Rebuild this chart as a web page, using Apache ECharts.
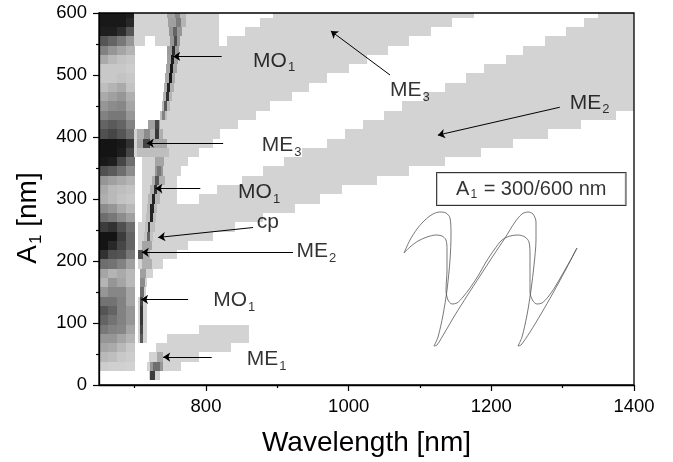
<!DOCTYPE html>
<html>
<head>
<meta charset="utf-8">
<script src="https://cdn.jsdelivr.net/npm/echarts@6/dist/echarts.min.js"></script>
<style>
  html, body { margin: 0; padding: 0; background: #fff; }
  #chart { width: 673px; height: 462px; }
</style>
</head>
<body>
<div id="chart"></div>
<script>
// map rows are 15 nm tall in A1, grey level 0 = black, 255 = white
const rowStep = 15;
const bandGrey = 211;

const xMajorTicks = [800, 1000, 1200, 1400];
const xMinorTicks = [700, 900, 1100, 1300];

// dark block at the short wavelength edge: four columns per row
const leftColumns = [650, 662.5, 675, 687.5, 700];
const leftRows = [600, 585, 570, 555, 540, 525, 510, 495, 480, 465, 450, 435, 420, 405, 390, 375,
  360, 345, 330, 315, 300, 285, 270, 255, 240, 225, 210, 195, 180, 165, 150, 135, 120, 105, 90, 75, 60, 45, 30];
const leftGrey = [
  [25, 25, 25, 30], [25, 25, 25, 40], [30, 30, 45, 85], [85, 100, 120, 150],
  [130, 150, 165, 180], [170, 185, 195, 200], [200, 200, 200, 205], [200, 200, 195, 200],
  [190, 180, 170, 195], [170, 160, 150, 175], [150, 140, 135, 165], [130, 120, 120, 150],
  [100, 90, 100, 130], [80, 70, 85, 110], [20, 20, 25, 50], [20, 20, 30, 70],
  [25, 30, 70, 110], [80, 90, 110, 140], [150, 160, 170, 180], [170, 185, 190, 195],
  [175, 185, 195, 200], [140, 150, 170, 185], [110, 120, 140, 160], [60, 50, 80, 110],
  [20, 20, 60, 100], [20, 40, 70, 100], [50, 80, 85, 120], [110, 115, 130, 160],
  [165, 180, 170, 185], [180, 150, 165, 185], [150, 135, 135, 165], [115, 115, 130, 165],
  [85, 100, 130, 150], [100, 115, 130, 150], [120, 130, 135, 165], [150, 150, 165, 180],
  [165, 170, 185, 200], [185, 190, 200, 205], [205, 208, 208, 210]
];

// light grey bands: [A1, from nm, to nm]
const bandME3 = [
  [600, 699, 1175], [585, 699, 1145], [570, 699, 1115], [555, 699, 1085],
  [540, 745, 1055], [525, 745, 1025], [510, 744, 1000], [495, 743, 970],
  [480, 742, 945], [465, 740, 920], [450, 738, 890], [435, 735, 870],
  [420, 718, 845], [405, 699, 820], [390, 699, 810], [375, 699, 790],
  [360, 710, 775], [345, 710, 765], [330, 710, 760], [315, 710, 760], [300, 710, 760]
];
const bandME2 = [
  [600, 1350, 1400], [585, 1330, 1400], [570, 1305, 1400], [555, 1275, 1400],
  [540, 1245, 1400], [525, 1220, 1400], [510, 1190, 1400], [495, 1165, 1400],
  [480, 1135, 1400], [465, 1105, 1400], [450, 1075, 1400], [435, 1050, 1375],
  [420, 1020, 1325], [405, 995, 1280], [390, 970, 1230], [375, 935, 1185],
  [360, 910, 1135], [345, 880, 1085], [330, 850, 1040], [315, 815, 990],
  [300, 790, 960], [285, 710, 925], [270, 710, 880], [255, 705, 840],
  [240, 705, 810], [225, 705, 775], [210, 705, 760], [195, 705, 740],
  [180, 707, 725], [165, 707, 717], [150, 707, 716]
];
const bandME1 = [
  [90, 790, 860], [75, 745, 860], [60, 730, 835], [45, 720, 790], [30, 717, 765], [15, 720, 735]
];
const whiteGaps = [
  [600, 818, 894], [585, 818, 876], [570, 818, 855], [555, 818, 829], [555, 714, 728]
];

// resonance traces: [A1, from nm, to nm, grey]
const resonances = [
  [600, 745, 757, 165], [600, 757, 764, 135], [600, 764, 772, 185],
  [585, 747, 758, 160], [585, 758, 765, 125], [585, 765, 772, 180],
  [570, 748, 766, 150], [570, 754, 759, 100],
  [555, 749, 764, 150], [555, 755, 759, 75],
  [540, 746, 762, 155], [540, 752, 756, 45],
  [525, 745, 761, 160], [525, 751, 755, 30],
  [510, 744, 759, 165], [510, 749, 754, 25],
  [495, 743, 757, 170], [495, 748, 752, 25],
  [480, 741, 755, 175], [480, 745, 749, 35],
  [465, 740, 753, 180], [465, 744, 748, 50],
  [450, 738, 750, 185], [450, 741, 745, 90],
  [435, 735, 745, 190], [435, 738, 742, 130],
  [420, 718, 735, 160], [420, 728, 734, 70],
  [405, 703, 740, 175], [405, 713, 722, 140], [405, 728, 734, 55],
  [390, 703, 745, 165], [390, 712, 721, 70],
  [375, 703, 748, 190],
  [360, 728, 741, 165],
  [345, 728, 740, 150], [345, 731, 737, 120],
  [330, 724, 742, 175], [330, 728, 734, 85],
  [315, 721, 738, 175], [315, 727, 731, 50],
  [300, 718, 735, 180], [300, 724, 728, 35],
  [285, 717, 732, 185], [285, 722, 727, 35],
  [270, 716, 730, 190], [270, 721, 725, 35],
  [255, 714, 728, 190], [255, 718, 722, 50],
  [240, 713, 725, 195], [240, 717, 721, 100],
  [225, 710, 724, 165],
  [210, 705, 721, 175], [210, 705, 711, 80],
  [195, 710, 724, 175],
  [180, 707, 716, 160],
  [165, 707, 714, 140],
  [150, 707, 713, 110],
  [135, 705, 717, 211], [135, 707, 712, 70],
  [120, 705, 717, 211], [120, 707, 712, 55],
  [105, 705, 717, 211], [105, 707, 711, 55],
  [90, 705, 717, 211], [90, 707, 711, 70],
  [75, 705, 717, 211], [75, 707, 711, 90],
  [45, 731, 740, 170],
  [30, 721, 740, 150], [30, 726, 735, 110],
  [15, 721, 729, 60]
];

// annotations
const arrows = [
  [822, 530, 754, 530],
  [824, 390, 717, 390],
  [792, 317, 729, 317],
  [866, 254, 733, 238],
  [922, 214, 710, 214],
  [775, 138, 709, 138],
  [808, 45, 740, 45],
  [1058, 500, 975, 571],
  [1296, 448, 1125, 403]
];
const labels = [
  ['MO', '1', 866, 523],
  ['ME', '3', 878, 386],
  ['MO', '1', 845, 311],
  ['cp', '', 871, 262],
  ['ME', '2', 927, 216],
  ['MO', '1', 810, 136],
  ['ME', '1', 857, 42],
  ['ME', '3', 1058, 475],
  ['ME', '2', 1310, 455]
];
const insetTitle = [1256, 316];

// inset spectra (arbitrary units)
const insetCurveA = [[4, 97], [10, 110], [17, 121], [25, 130], [33, 136], [40, 138], [46, 137], [50, 132],
  [51, 115], [50, 90], [47, 60], [43, 35], [38, 13], [34, 4], [37, 5], [45, 18], [55, 35], [67, 54],
  [80, 74], [93, 94], [105, 112], [115, 128], [122, 136], [128, 138], [133, 136], [136, 128], [136, 110],
  [134, 85], [131, 60], [127, 35], [122, 13], [118, 4], [121, 5], [130, 18], [141, 36], [153, 57],
  [165, 79], [177, 102]];
const insetCurveB = [[4, 97], [10, 103], [18, 109], [27, 113], [36, 115], [42, 114], [46, 110], [47, 100],
  [47, 80], [46, 60], [48, 50], [52, 46], [57, 47], [63, 53], [70, 62], [78, 74], [86, 88], [94, 100],
  [102, 110], [110, 114], [118, 115], [125, 113], [129, 108], [130, 95], [130, 75], [130, 58], [133, 49],
  [137, 46], [142, 47], [148, 53], [155, 63], [162, 75], [170, 89], [177, 102]];

const cells = [];
leftRows.forEach((a, i) => {
  for (let j = 0; j < 4; j++) {
    cells.push([leftColumns[j], a, leftColumns[j + 1], leftGrey[i][j]]);
  }
});
[bandME3, bandME2, bandME1].forEach((band) => {
  band.forEach(([a, from, to]) => cells.push([from, a, to, bandGrey]));
});
whiteGaps.forEach(([a, from, to]) => cells.push([from, a, to, 255]));
resonances.forEach(([a, from, to, g]) => cells.push([from, a, to, g]));

function renderCell(params, api) {
  const p0 = api.coord([api.value(0), api.value(1) + rowStep / 2]);
  const p1 = api.coord([api.value(2), api.value(1) - rowStep / 2]);
  const left = Math.round(p0[0]);
  const top = Math.round(p0[1]);
  const cs = params.coordSys;
  const rect = echarts.graphic.clipRectByRect(
    { x: left, y: top, width: Math.round(p1[0]) - left, height: Math.round(p1[1]) - top },
    { x: cs.x, y: cs.y, width: cs.width, height: cs.height }
  );
  if (!rect) {
    return;
  }
  const g = api.value(3);
  return { type: 'rect', shape: rect, style: { fill: `rgb(${g},${g},${g})` } };
}

const font = 'Liberation Sans, Arial, Helvetica, sans-serif';
const chart = echarts.init(document.getElementById('chart'));
chart.setOption({
  animation: false,
  textStyle: { fontFamily: font },
  grid: [
    { left: 99, right: 39, top: 13, bottom: 77, show: true, borderColor: '#000', borderWidth: 1.3, backgroundColor: 'transparent', z: 10 },
    { left: 400, top: 210, width: 180, height: 140 }
  ],
  xAxis: [
    {
      type: 'value', gridIndex: 0, min: 650, max: 1400, position: 'bottom', z: 10,
      axisLine: { lineStyle: { color: '#000', width: 1.3 } },
      axisTick: { length: 6, customValues: xMajorTicks, lineStyle: { color: '#000', width: 1.2 } },
      axisLabel: { customValues: xMajorTicks, fontSize: 18.5, color: '#000', margin: 12, formatter: (v) => String(v) },
      splitLine: { show: false },
      name: 'Wavelength [nm]', nameLocation: 'middle', nameGap: 44,
      nameTextStyle: { fontSize: 28, color: '#000' }
    },
    {
      type: 'value', gridIndex: 0, min: 650, max: 1400, position: 'bottom', z: 10,
      axisLine: { show: false },
      axisTick: { length: 3, customValues: xMinorTicks, lineStyle: { color: '#000', width: 1.2 } },
      axisLabel: { show: false },
      splitLine: { show: false }
    },
    { type: 'value', gridIndex: 1, min: 0, max: 180, show: false }
  ],
  yAxis: [
    {
      type: 'value', gridIndex: 0, min: 0, max: 600, interval: 100, z: 10,
      axisLine: { show: true, lineStyle: { color: '#000', width: 1.3 } },
      axisTick: { show: true, length: 6, lineStyle: { color: '#000', width: 1.2 } },
      minorTick: { show: true, splitNumber: 2, length: 3, lineStyle: { color: '#000', width: 1.2 } },
      axisLabel: { fontSize: 18.5, color: '#000', margin: 12 },
      splitLine: { show: false },
      name: 'A{s|1} [nm]', nameLocation: 'middle', nameGap: 54, nameRotate: 90,
      nameTextStyle: {
        fontSize: 28, color: '#000', padding: [0, 38, 0, 0],
        rich: { s: { fontSize: 17, padding: [17, 0, 0, 1], color: '#000' } }
      }
    },
    { type: 'value', gridIndex: 1, min: 0, max: 140, show: false }
  ],
  series: [
    {
      type: 'custom', xAxisIndex: 0, yAxisIndex: 0, silent: true,
      renderItem: renderCell, data: cells, z: 1
    },
    {
      type: 'lines', coordinateSystem: 'cartesian2d', xAxisIndex: 0, yAxisIndex: 0, silent: true, z: 5,
      symbol: ['none', 'arrow'], symbolSize: 7,
      lineStyle: { color: '#000', width: 1, opacity: 1 },
      data: arrows.map((a) => ({ coords: [[a[0], a[1]], [a[2], a[3]]] }))
    },
    {
      type: 'scatter', xAxisIndex: 0, yAxisIndex: 0, silent: true, z: 6, symbolSize: 0,
      data: labels.map((l) => [l[2], l[3], l[0], l[1]]),
      label: {
        show: true, position: 'right', distance: 0, color: '#000',
        formatter: (p) => (p.data[3] ? `{m|${p.data[2]}}{s|${p.data[3]}}` : `{m|${p.data[2]}}`),
        rich: {
          m: { fontSize: 21, color: '#000' },
          s: { fontSize: 13, color: '#000', padding: [14, 0, 0, 1] }
        }
      }
    },
    {
      type: 'scatter', xAxisIndex: 0, yAxisIndex: 0, silent: true, z: 6, symbolSize: 0,
      data: [insetTitle],
      label: {
        show: true, position: 'inside', color: '#000',
        formatter: '{m|A}{s|1}{m| = 300/600 nm}',
        borderColor: '#000', borderWidth: 1, padding: [4, 19, 4, 19], backgroundColor: '#fff',
        rich: {
          m: { fontSize: 20, color: '#000' },
          s: { fontSize: 12, color: '#000', padding: [12, 1, 0, 1] }
        }
      }
    },
    {
      type: 'line', xAxisIndex: 2, yAxisIndex: 1, silent: true, showSymbol: false, smooth: 0.3,
      lineStyle: { color: '#555', width: 0.8 }, data: insetCurveA
    },
    {
      type: 'line', xAxisIndex: 2, yAxisIndex: 1, silent: true, showSymbol: false, smooth: 0.3,
      lineStyle: { color: '#555', width: 0.8 }, data: insetCurveB
    }
  ]
});
</script>
</body>
</html>
